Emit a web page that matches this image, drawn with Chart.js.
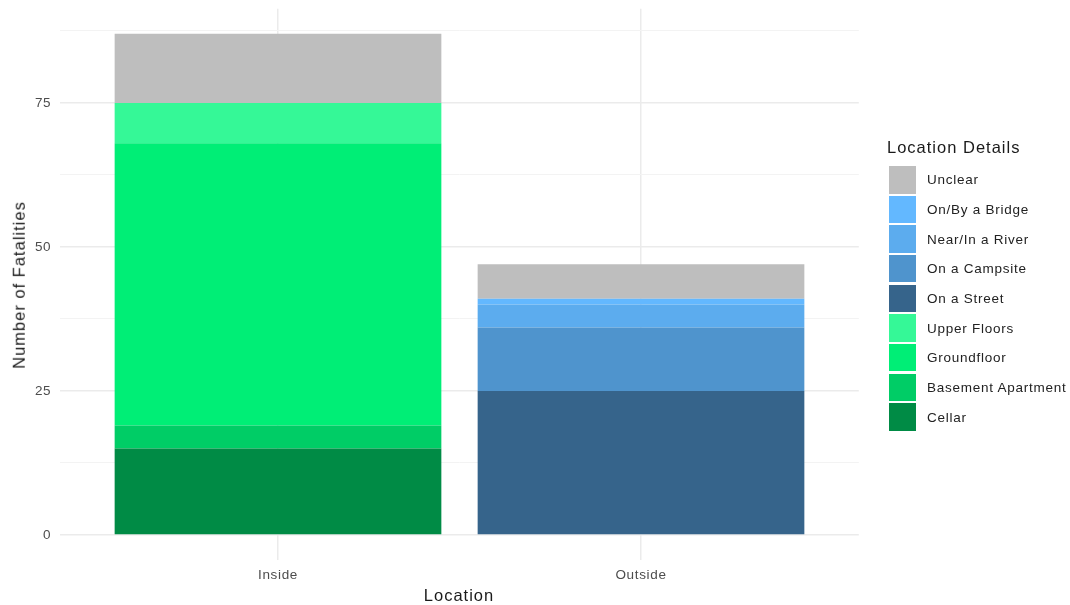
<!DOCTYPE html>
<html>
<head>
<meta charset="utf-8">
<script src="https://cdn.jsdelivr.net/npm/chart.js@4"></script>
<style>
  body { margin: 0; background: #fff; font-family: "Liberation Sans", Arial, Helvetica, sans-serif; }
  #wrap { position: relative; width: 1070px; height: 605px; }
  .axis-title { position: absolute; font-size: 16.5px; line-height: 16.5px; letter-spacing: 1px; color: #1a1a1a; white-space: nowrap; }
  #legend-title { position: absolute; left: 887px; top: 137px; font-size: 16.5px; line-height: 20px; letter-spacing: 1px; color: #1a1a1a; white-space: nowrap; }
  .legend-row { position: absolute; left: 888.5px; height: 27.5px; display: flex; align-items: center; }
  .legend-row span.box { width: 27.5px; height: 27.5px; margin-right: 11px; }
  .legend-row span.txt { font-size: 13.5px; letter-spacing: 0.75px; color: #222; white-space: nowrap; }
</style>
</head>
<body>
<div id="wrap">
  <canvas id="chart"></canvas>
  <div class="axis-title" id="ytitle"></div>
  <div class="axis-title" id="xtitle"></div>
  <div id="legend-title"></div>
  <div id="legend"></div>
</div>
<script>
'use strict';

// --- Dữ liệu ---
const categories = ['Inside', 'Outside'];
const detailLabels = ['Cellar', 'Basement Apartment', 'Groundfloor', 'Upper Floors',
                      'On a Street', 'On a Campsite', 'Near/In a River', 'On/By a Bridge', 'Unclear'];
const insideValues  = [15, 4, 49, 7, 0, 0, 0, 0, 12];
const outsideValues = [0, 0, 0, 0, 25, 11, 4, 1, 6];
const yTickLabels = [0, 25, 50, 75];
const yMinorTicks = [12.5, 37.5, 62.5, 87.5];

const xTitle = 'Location';
const yTitle = 'Number of Fatalities';
const legendTitle = 'Location Details';

// màu cho từng nhóm (cùng thứ tự với detailLabels)
const detailColors = ['#008B45', '#00CD66', '#00EE76', '#35F897',
                      '#36648B', '#4F94CD', '#5CACEE', '#63B8FF', '#BEBEBE'];

// --- Tiêu đề trục + chú thích (HTML) ---
const yEl = document.getElementById('ytitle');
yEl.textContent = yTitle;
yEl.style.left = '19.3px';
yEl.style.top = '284.5px';
yEl.style.transform = 'translate(-50%, -50%) rotate(-90deg)';

const xEl = document.getElementById('xtitle');
xEl.textContent = xTitle;
xEl.style.left = '459px';
xEl.style.top = '595.2px';
xEl.style.transform = 'translate(-50%, -50%)';

document.getElementById('legend-title').textContent = legendTitle;
const legendBox = document.getElementById('legend');
// chú thích theo thứ tự ngược (Unclear ở trên cùng)
[...detailLabels].reverse().forEach((label, i) => {
    const idx = detailLabels.length - 1 - i;
    const row = document.createElement('div');
    row.className = 'legend-row';
    row.style.top = (166 + i * 29.66) + 'px';
    row.innerHTML = `<span class="box" style="background:${detailColors[idx]}"></span><span class="txt">${label}</span>`;
    legendBox.appendChild(row);
});

// --- Biểu đồ ---
const tracking = {
    id: 'tracking',
    beforeDraw(chart) { chart.ctx.letterSpacing = '0.65px'; }
};

const datasets = detailLabels.map((label, i) => ({
    label,
    data: [{ x: 1, y: insideValues[i] }, { x: 2, y: outsideValues[i] }],
    backgroundColor: detailColors[i],
    borderWidth: 0,
    barPercentage: 0.9,
    categoryPercentage: 1
}));

const tickFont = { family: '"Liberation Sans", Arial, Helvetica, sans-serif', size: 13.5 };

new Chart(document.getElementById('chart'), {
    type: 'bar',
    data: { datasets },
    plugins: [tracking],
    options: {
        responsive: true,
        maintainAspectRatio: false,
        animation: false,
        layout: { padding: { left: 0, right: 211.2, top: 8.8, bottom: 0 } },
        plugins: { legend: { display: false }, tooltip: { enabled: false } },
        scales: {
            x: {
                type: 'linear',
                stacked: true,
                offset: false,
                min: 0.4, max: 2.6,
                afterBuildTicks: (s) => { s.ticks = categories.map((c, i) => ({ value: i + 1 })); },
                afterFit: (s) => { s.height = 45; s.paddingLeft = 0; s.paddingRight = 0; },
                ticks: {
                    color: '#4D4D4D', font: tickFont, padding: 7, maxRotation: 0,
                    callback: (v) => categories[v - 1] ?? ''
                },
                grid: { color: '#EBEBEB', lineWidth: 1.5, drawTicks: false, offset: false },
                border: { display: false }
            },
            y: {
                stacked: true,
                min: -4.35, max: 91.35,
                afterBuildTicks: (s) => {
                    s.ticks = [...yTickLabels, ...yMinorTicks].sort((a, b) => a - b).map(v => ({ value: v }));
                },
                afterFit: (s) => { s.width = 60.2; s.paddingTop = 0; s.paddingBottom = 0; },
                ticks: {
                    color: '#4D4D4D', font: tickFont, padding: 9,
                    callback: (v) => yTickLabels.includes(v) ? v : ''
                },
                grid: {
                    color: (c) => yTickLabels.includes(c.tick.value) ? '#EBEBEB' : '#F3F3F3',
                    lineWidth: (c) => yTickLabels.includes(c.tick.value) ? 1.5 : 1,
                    drawTicks: false
                },
                border: { display: false }
            }
        }
    }
});
</script>
</body>
</html>
